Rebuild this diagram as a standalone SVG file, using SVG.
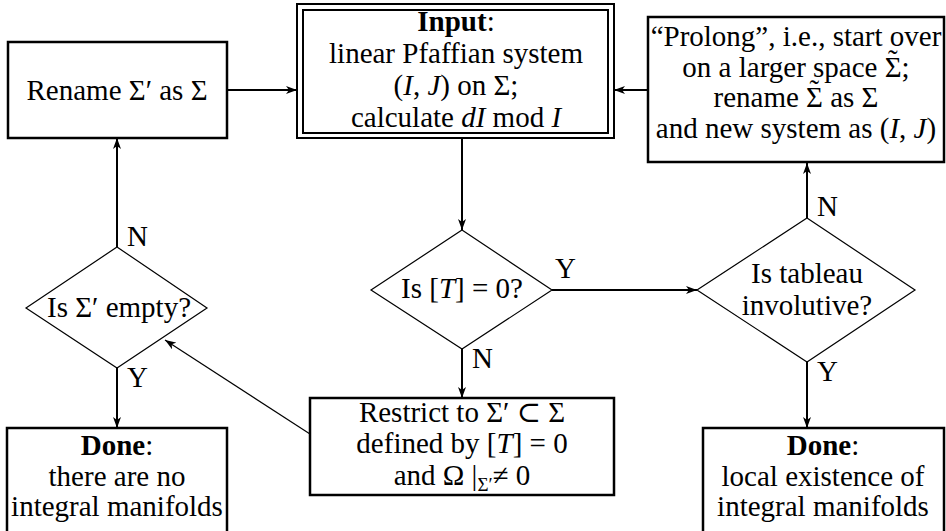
<svg xmlns="http://www.w3.org/2000/svg" width="946" height="531" viewBox="0 0 946 531">
<defs>
<marker id="ah" markerWidth="11" markerHeight="8" refX="11" refY="4" orient="auto" markerUnits="userSpaceOnUse"><path d="M0,0 L11,4 L0,8 L3,4 z" fill="#000"/></marker>
<style>
text{font-family:'Liberation Serif','DejaVu Serif',serif;font-size:29px;fill:#000;text-anchor:middle}
.box{fill:#fff;stroke:#000;stroke-width:2.5}
.dbl{fill:none;stroke:#000;stroke-width:2}
.dia{fill:#fff;stroke:#000;stroke-width:1.2}
.c{fill:none;stroke:#000;stroke-width:2}
.thin{fill:none;stroke:#000;stroke-width:1.2}
text.lbl{text-anchor:start}
.i{font-style:italic}
.b{font-weight:bold}
.sub{font-size:19px}
</style>
</defs>
<rect width="946" height="531" fill="#fff"/>

<g id="rename">
<rect class="box" x="8" y="42" width="219" height="96"/>
<text x="117" y="100">Rename Σ′ as Σ</text>
</g>

<g id="input">
<rect class="dbl" x="297" y="4" width="317" height="134"/>
<rect class="dbl" x="303" y="10" width="305" height="123"/>
<text x="456" y="31"><tspan class="b">Input</tspan>:</text>
<text x="456" y="63">linear Pfaffian system</text>
<text x="456" y="95">(<tspan class="i">I</tspan>, <tspan class="i">J</tspan>) on Σ;</text>
<text x="456" y="127">calculate <tspan class="i">dI</tspan> mod <tspan class="i">I</tspan></text>
</g>

<g id="prolong">
<rect class="box" x="648" y="17" width="296" height="145"/>
<text x="796" y="46">“Prolong”, i.e., start over</text>
<text x="796" y="77">on a larger space Σ<tspan dx="-13.5" dy="-7">˜</tspan><tspan dx="3.8" dy="7">;</tspan></text>
<text x="796" y="107">rename Σ<tspan dx="-13.5" dy="-7">˜</tspan><tspan dx="3.8" dy="7"> as Σ</tspan></text>
<text x="796" y="138">and new system as (<tspan class="i">I</tspan>, <tspan class="i">J</tspan>)</text>
</g>

<g id="isT">
<polygon class="dia" points="462,230 552,290 462,349 371,290"/>
<text x="462" y="298">Is [<tspan class="i">T</tspan>] = 0?</text>
</g>

<g id="tableau">
<polygon class="dia" points="807,218 915,290 807,362 697,290"/>
<text x="807" y="283">Is tableau</text>
<text x="807" y="315">involutive?</text>
</g>

<g id="empty">
<polygon class="dia" points="117,247 207,308 117,368 26,308"/>
<text x="119" y="317">Is Σ′ empty?</text>
</g>

<g id="restrict">
<rect class="box" x="310" y="398" width="304" height="97"/>
<text x="462" y="422">Restrict to Σ′ ⊂ Σ</text>
<text x="462" y="453">defined by [<tspan class="i">T</tspan>] = 0</text>
<text x="462" y="485">and Ω |<tspan class="sub" dy="6">Σ′</tspan><tspan dy="-6">≠ 0</tspan></text>
</g>

<g id="doneNo">
<rect class="box" x="7" y="428" width="220" height="115"/>
<text x="117" y="455"><tspan class="b">Done</tspan>:</text>
<text x="117" y="486">there are no</text>
<text x="117" y="516">integral manifolds</text>
</g>

<g id="doneYes">
<rect class="box" x="703" y="428" width="241" height="115"/>
<text x="823" y="455"><tspan class="b">Done</tspan>:</text>
<text x="823" y="486">local existence of</text>
<text x="823" y="516">integral manifolds</text>
</g>

<g id="connectors">
<path class="c" d="M227,90 H297" marker-end="url(#ah)"/>
<path class="c" d="M648,90 H614" marker-end="url(#ah)"/>
<path class="c" d="M462,138 V230" marker-end="url(#ah)"/>
<path class="c" d="M552,290 H697" marker-end="url(#ah)"/>
<path class="c" d="M462,349 V398" marker-end="url(#ah)"/>
<path class="c" d="M807,218 V163" marker-end="url(#ah)"/>
<path class="c" d="M807,362 V428" marker-end="url(#ah)"/>
<path class="thin" d="M310,434 L165,340" marker-end="url(#ah)"/>
<path class="c" d="M117,247 V138" marker-end="url(#ah)"/>
<path class="c" d="M117,368 V428" marker-end="url(#ah)"/>
<text class="lbl" x="555" y="278">Y</text>
<text class="lbl" x="472" y="368">N</text>
<text class="lbl" x="817" y="216">N</text>
<text class="lbl" x="817" y="381">Y</text>
<text class="lbl" x="127" y="246">N</text>
<text class="lbl" x="127" y="387">Y</text>
</g>
</svg>
